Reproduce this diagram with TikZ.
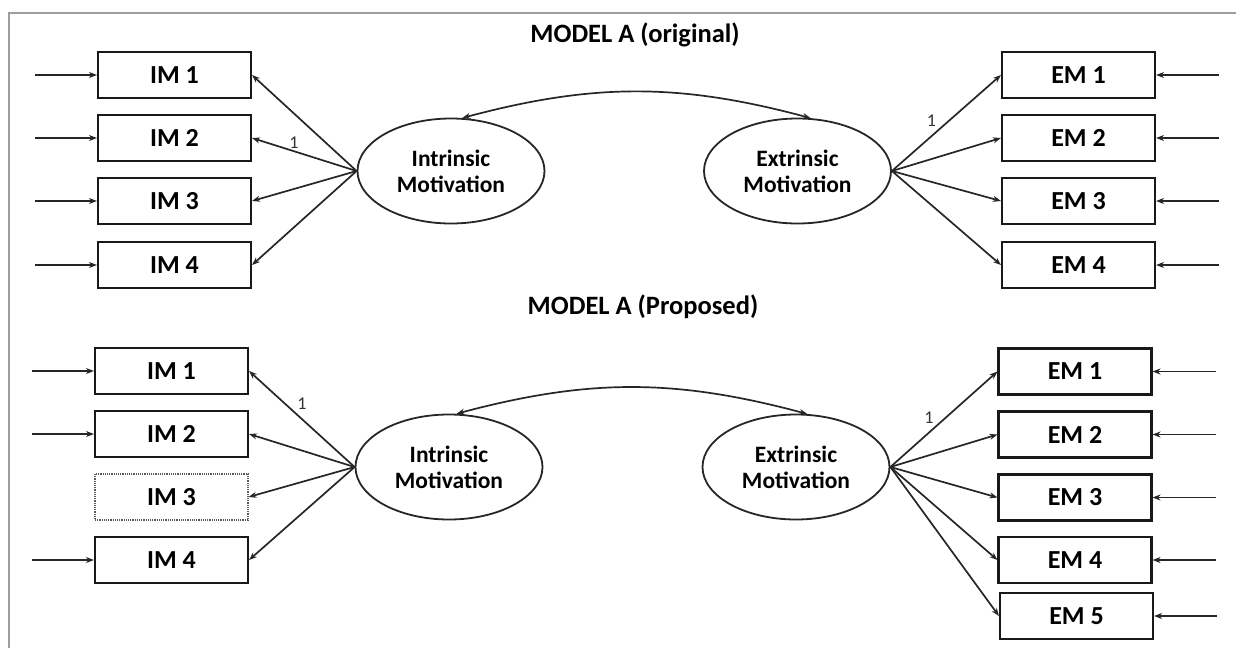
\documentclass[tikz,border=0pt]{standalone}
\usepackage{fontspec}
\setmainfont{Carlito}
\usetikzlibrary{shapes.geometric, arrows.meta, positioning}

\tikzset{
  item/.style={draw=black!90, line width=2.1pt, minimum width=153pt, minimum height=46pt, inner sep=0pt, font=\fontsize{26}{30}\selectfont\bfseries},
  dropped/.style={item, draw=black!65, line width=1.2pt, densely dotted},
  latent/.style={ellipse, draw=black!85, line width=1.8pt, minimum width=187pt, minimum height=105pt, inner sep=0pt, align=center, font=\fontsize{23.5}{26}\selectfont\bfseries},
  heading/.style={font=\fontsize{26.5}{31}\selectfont\bfseries},
  load/.style={-{Stealth[length=8pt,width=6pt]}, line width=1.7pt, draw=black!85},
  cov/.style={{Stealth[length=8pt,width=6pt]}-{Stealth[length=8pt,width=6pt]}, line width=1.7pt, draw=black!85},
  fixed/.style={font=\fontsize{18}{20}\selectfont, text=black!80, inner sep=2pt},
  frame/.style={draw=black!38, line width=2pt},
}

\begin{document}
\begin{tikzpicture}[x=1pt, y=-1pt]
            \useasboundingbox (0,0) rectangle (1236,648);
            \draw[frame] (9,648) |- (1236,13);

            % model A, original
            \node[heading] (titleA) at (635,35) {MODEL A (original)};

            \node[item] (ia1) at (174.5,75) {IM 1};
            \node[item] (ia2) at (174.5,138) {IM 2};
            \node[item] (ia3) at (174.5,201) {IM 3};
            \node[item] (ia4) at (174.5,265) {IM 4};

            \node[item] (ea1) at (1078.5,75) {EM 1};
            \node[item] (ea2) at (1078.5,138) {EM 2};
            \node[item] (ea3) at (1078.5,201) {EM 3};
            \node[item] (ea4) at (1078.5,265) {EM 4};

            \node[latent] (intrA) at (451,171) {Intrinsic\\Motivation};
            \node[latent] (extrA) at (797.5,171) {Extrinsic\\Motivation};

            \coordinate[left=62pt of ia1] (dia1);
            \coordinate[left=62pt of ia2] (dia2);
            \coordinate[left=62pt of ia3] (dia3);
            \coordinate[left=62pt of ia4] (dia4);
            \coordinate[right=63pt of ea1] (dea1);
            \coordinate[right=63pt of ea2] (dea2);
            \coordinate[right=63pt of ea3] (dea3);
            \coordinate[right=63pt of ea4] (dea4);

            \draw[load] (dia1) -- (ia1);
            \draw[load] (dia2) -- (ia2);
            \draw[load] (dia3) -- (ia3);
            \draw[load] (dia4) -- (ia4);
            \draw[load] (dea1) -- (ea1);
            \draw[load] (dea2) -- (ea2);
            \draw[load] (dea3) -- (ea3);
            \draw[load] (dea4) -- (ea4);

            \draw[load] (intrA.west) -- (ia1.east);
            \draw[load] (intrA.west) -- node[fixed, above, pos=0.6] {1} (ia2.east);
            \draw[load] (intrA.west) -- (ia3.east);
            \draw[load] (intrA.west) -- (ia4.east);

            \draw[load] (extrA.east) -- node[fixed, above left, pos=0.43] {1} (ea1.west);
            \draw[load] (extrA.east) -- (ea2.west);
            \draw[load] (extrA.east) -- (ea3.west);
            \draw[load] (extrA.east) -- (ea4.west);

            \draw[cov] (intrA.78) to[bend left=15] (extrA.76);

            % model A, proposed
            \node[heading] (titleB) at (643,307) {MODEL A (Proposed)};

            \node[item] (ib1) at (171.5,371) {IM 1};
            \node[item] (ib2) at (171.5,434) {IM 2};
            \node[dropped] (ib3) at (171.5,497) {IM 3};
            \node[item] (ib4) at (171.5,560) {IM 4};

            \node[item] (eb1) at (1075,371.5) {EM 1};
            \node[item] (eb2) at (1075,434.5) {EM 2};
            \node[item] (eb3) at (1075,497.5) {EM 3};
            \node[item] (eb4) at (1075,560) {EM 4};
            \node[item] (eb5) at (1076.5,616) {EM 5};

            \node[latent] (intrB) at (449,467) {Intrinsic\\Motivation};
            \node[latent] (extrB) at (796,467) {Extrinsic\\Motivation};

            \coordinate[left=62pt of ib1] (dib1);
            \coordinate[left=62pt of ib2] (dib2);
            \coordinate[left=62pt of ib4] (dib4);
            \coordinate[right=63pt of eb1] (deb1);
            \coordinate[right=63pt of eb2] (deb2);
            \coordinate[right=63pt of eb3] (deb3);
            \coordinate[right=63pt of eb4] (deb4);
            \coordinate[right=63pt of eb5] (deb5);

            \draw[load] (dib1) -- (ib1);
            \draw[load] (dib2) -- (ib2);
            \draw[load] (dib4) -- (ib4);
            \draw[load] (deb1) -- (eb1);
            \draw[load] (deb2) -- (eb2);
            \draw[load] (deb3) -- (eb3);
            \draw[load] (deb4) -- (eb4);
            \draw[load] (deb5) -- (eb5);

            \draw[load] (intrB.west) -- node[fixed, above right, pos=0.57] {1} (ib1.east);
            \draw[load] (intrB.west) -- (ib2.east);
            \draw[load] (intrB.west) -- (ib3.east);
            \draw[load] (intrB.west) -- (ib4.east);

            \draw[load] (extrB.east) -- node[fixed, above left, pos=0.43] {1} (eb1.west);
            \draw[load] (extrB.east) -- (eb2.west);
            \draw[load] (extrB.east) -- (eb3.west);
            \draw[load] (extrB.east) -- (eb4.west);
            \draw[load] (extrB.east) -- (eb5.west);

            \draw[cov] (intrB.82) to[bend left=15] (extrB.78);
        \end{tikzpicture}
\end{document}
